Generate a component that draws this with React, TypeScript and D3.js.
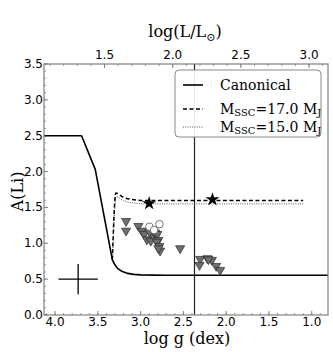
import React from "react";
import * as d3 from "d3";

// ---- data ----
const canonicalLogg = [4.13, 3.69, 3.53, 3.43, 3.33, 3.3, 3.27, 3.22, 3.15, 3.08, 3.0, 2.85, 2.7, 0.81];
const canonicalALi = [2.5, 2.5, 2.03, 1.4, 0.77, 0.7, 0.65, 0.61, 0.58, 0.566, 0.56, 0.556, 0.555, 0.555];

const ssc17Logg = [3.33, 3.29, 3.2, 3.1, 2.95, 2.5, 1.1];
const ssc17ALi = [0.77, 1.7, 1.64, 1.61, 1.595, 1.595, 1.595];

const ssc15Logg = [3.33, 3.285, 3.2, 3.1, 2.95, 2.5, 1.1];
const ssc15ALi = [0.77, 1.65, 1.595, 1.565, 1.55, 1.55, 1.55];

const triLogg = [3.17, 3.17, 3.026, 2.986, 2.959, 2.927, 2.881, 2.85, 2.83, 2.804, 2.792, 2.811, 2.781, 2.772, 2.792, 2.85, 2.897, 2.538, 2.304, 2.312, 2.219, 2.167, 2.117, 2.07, 2.207];
const triALi = [1.309, 1.174, 1.24, 1.174, 1.128, 1.054, 1.035, 1.1, 1.146, 1.128, 1.045, 1.021, 0.961, 0.896, 0.929, 1.174, 1.16, 0.929, 0.78, 0.696, 0.79, 0.766, 0.682, 0.627, 0.776];

const circLogg = [2.897, 2.78, 2.842];
const circALi = [1.23, 1.267, 1.184];

const starLogg = [2.9, 2.16];
const starALi = [1.556, 1.611];

const bottomTicks = [4.0, 3.5, 3.0, 2.5, 2.0, 1.5, 1.0];
const leftTicks = [0.0, 0.5, 1.0, 1.5, 2.0, 2.5, 3.0, 3.5];
const topTicks = [1.5, 2.0, 2.5, 3.0];

const vlineLogg = 2.37;
const errLogg = 3.73;
const errALi = 0.5;
const errDx = 0.23;
const errDy = 0.21;

// ---- layout ----
const W = 333, H = 352;
const L = 44, R = 328, T = 64, B = 315;

export default function App() {
  const x = d3.scaleLinear().domain([4.129, 0.81]).range([L, R]);
  const y = d3.scaleLinear().domain([0, 3.5]).range([B, T]);
  const xTop = d3.scaleLinear().domain([1.056, 3.139]).range([L, R]);

  const zip = (a: number[], b: number[]) => a.map((v, i) => [v, b[i]] as [number, number]);

  const smooth = d3
    .line<[number, number]>()
    .x((d) => x(d[0]))
    .y((d) => y(d[1]))
    .curve(d3.curveMonotoneX);
  const straight = d3
    .line<[number, number]>()
    .x((d) => x(d[0]))
    .y((d) => y(d[1]))
    .curve(d3.curveLinear);

  const tri = d3.symbol(d3.symbolTriangle, 36)()!;
  const star = d3.symbol(d3.symbolStar, 60)()!;

  const minorBottom = d3.range(41, 8, -1).map((v) => v / 10).filter((v) => v <= 4.129 && v >= 0.81);
  const minorLeft = d3.range(0, 36).map((v) => v / 10);
  const minorTop = d3.range(11, 32).map((v) => v / 10).filter((v) => v >= 1.056 && v <= 3.139);

  const axisColor = "#808080";
  const tickFont = "DejaVu Sans";
  const serif = "DejaVu Serif";

  return (
    <svg width={W} height={H} style={{ position: "absolute", left: 0, top: 0, background: "#fff" }}>
      <rect x={0} y={0} width={W} height={H} fill="#fff" />
      {/* minor ticks */}
      <g stroke={axisColor} strokeWidth={0.8}>
        {minorBottom.map((v, i) => (
          <line key={"mb" + i} x1={x(v)} x2={x(v)} y1={B} y2={B - 2} />
        ))}
        {minorLeft.map((v, i) => (
          <line key={"ml" + i} x1={L} x2={L + 2} y1={y(v)} y2={y(v)} />
        ))}
        {minorTop.map((v, i) => (
          <line key={"mt" + i} x1={xTop(v)} x2={xTop(v)} y1={T} y2={T + 2} />
        ))}
      </g>
      {/* major ticks */}
      <g stroke={axisColor} strokeWidth={1}>
        {bottomTicks.map((v, i) => (
          <line key={"b" + i} x1={x(v)} x2={x(v)} y1={B} y2={B - 4} />
        ))}
        {leftTicks.map((v, i) => (
          <line key={"l" + i} x1={L} x2={L + 4} y1={y(v)} y2={y(v)} />
        ))}
        {topTicks.map((v, i) => (
          <line key={"t" + i} x1={xTop(v)} x2={xTop(v)} y1={T} y2={T + 4} />
        ))}
      </g>

      {/* vertical line */}
      <line x1={x(vlineLogg)} x2={x(vlineLogg)} y1={T} y2={B} stroke="#222" strokeWidth={1.2} />

      {/* model curves */}
      <path d={smooth(zip(ssc15Logg, ssc15ALi))!} fill="none" stroke="#555" strokeWidth={1} strokeDasharray="1,1.3" />
      <path d={smooth(zip(ssc17Logg, ssc17ALi))!} fill="none" stroke="#000" strokeWidth={1.5} strokeDasharray="4,2.5" />
      <path d={straight(zip(canonicalLogg, canonicalALi))!} fill="none" stroke="#000" strokeWidth={1.6} strokeLinejoin="round" />

      {/* error cross */}
      <g stroke="#000" strokeWidth={1.3}>
        <line x1={x(errLogg + errDx)} x2={x(errLogg - errDx)} y1={y(errALi)} y2={y(errALi)} />
        <line x1={x(errLogg)} x2={x(errLogg)} y1={y(errALi - errDy)} y2={y(errALi + errDy)} />
      </g>

      {/* triangles (upper limits) */}
      {triLogg.map((v, i) => (
        <path
          key={"tr" + i}
          d={tri}
          transform={`translate(${x(v)},${y(triALi[i])}) rotate(180)`}
          fill="#6e6e6e"
          stroke="#2a2a2a"
          strokeWidth={0.7}
        />
      ))}
      {/* open circles */}
      {circLogg.map((v, i) => (
        <circle key={"c" + i} cx={x(v)} cy={y(circALi[i])} r={3.8} fill="#fff" stroke="#555" strokeWidth={0.8} />
      ))}
      {/* stars */}
      {starLogg.map((v, i) => (
        <path key={"s" + i} d={star} transform={`translate(${x(v)},${y(starALi[i])})`} fill="#000" />
      ))}

      {/* legend */}
      <g>
        <rect x={175} y={70} width={146} height={67} rx={4} fill="#fff" fillOpacity={0.9} stroke="#888" strokeWidth={1} />
        <line x1={183} x2={203} y1={85} y2={85} stroke="#000" strokeWidth={1.6} />
        <line x1={183} x2={203} y1={109} y2={109} stroke="#000" strokeWidth={1.5} strokeDasharray="4,2.5" />
        <line x1={183} x2={203} y1={127} y2={127} stroke="#555" strokeWidth={1} strokeDasharray="1,1.3" />
        <g fontFamily={serif} fontSize={14} fill="#000">
          <text x={220} y={85} dominantBaseline="central">Canonical</text>
          <text x={220} y={109} dominantBaseline="central">
            M<tspan fontSize={10} dy={3}>SSC</tspan>
            <tspan dy={-3}>=17.0 M</tspan>
            <tspan fontSize={10} dy={3}>J</tspan>
          </text>
          <text x={220} y={127} dominantBaseline="central">
            M<tspan fontSize={10} dy={3}>SSC</tspan>
            <tspan dy={-3}>=15.0 M</tspan>
            <tspan fontSize={10} dy={3}>J</tspan>
          </text>
        </g>
      </g>

      {/* frame */}
      <rect x={L} y={T} width={R - L} height={B - T} fill="none" stroke={axisColor} strokeWidth={1.2} />

      {/* tick labels */}
      <g fontFamily={tickFont} fontSize={12} fill="#000">
        {bottomTicks.map((v, i) => (
          <text key={"bl" + i} x={x(v)} y={B + 11} textAnchor="middle">
            {v.toFixed(1)}
          </text>
        ))}
        {leftTicks.map((v, i) => (
          <text key={"ll" + i} x={L - 1} y={y(v)} textAnchor="end" dominantBaseline="central">
            {v.toFixed(1)}
          </text>
        ))}
        {topTicks.map((v, i) => (
          <text key={"tl" + i} x={xTop(v)} y={T - 5} textAnchor="middle">
            {v.toFixed(1)}
          </text>
        ))}
      </g>

      {/* axis labels */}
      <g fontFamily={serif} fontSize={16} fill="#000">
        <text x={187} y={344} textAnchor="middle">log g (dex)</text>
        <text x={185} y={37} textAnchor="middle">
          log(L/L<tspan fontSize={11} dy={4}>⊙</tspan>
          <tspan dy={-4}>)</tspan>
        </text>
        <text transform={`translate(23,${(T + B) / 2 + 2}) rotate(-90)`} textAnchor="middle">A(Li)</text>
      </g>
    </svg>
  );
}
